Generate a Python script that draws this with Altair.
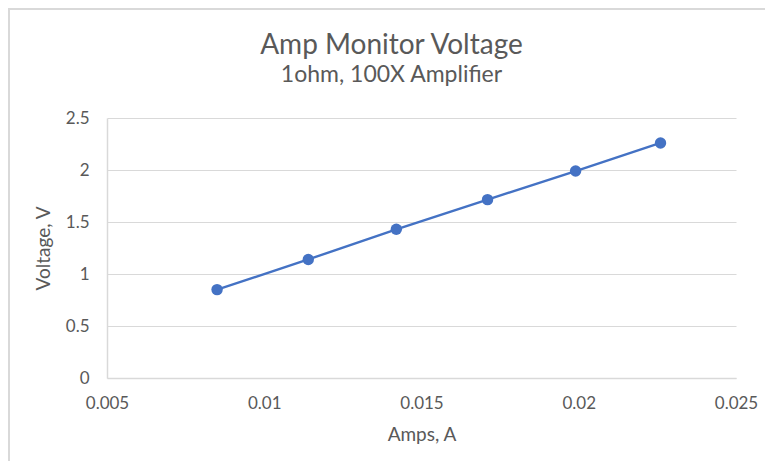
import altair as alt
import pandas as pd

# Data
amps = [0.0085, 0.0114, 0.0142, 0.0171, 0.0199, 0.0226]
volts = [0.85, 1.14, 1.43, 1.715, 1.99, 2.26]
x_ticks = [0.005, 0.01, 0.015, 0.02, 0.025]
y_ticks = [0, 0.5, 1, 1.5, 2, 2.5]

df = pd.DataFrame({"Amps": amps, "Voltage": volts})

FONT = "Lato"
TEXT = "#595959"
GRID = "#D9D9D9"
BLUE = "#4472C4"

W, H = 629, 260

base = alt.Chart(df).encode(
    x=alt.X(
        "Amps:Q",
        scale=alt.Scale(domain=[0.005, 0.025], nice=False, zero=False),
        axis=alt.Axis(
            values=x_ticks, format="~g", title="Amps, A", grid=False,
            ticks=False, tickSize=0, domainColor=GRID, domainWidth=1.5,
            labelFlush=False, labelPadding=17, titlePadding=14,
        ),
    ),
    y=alt.Y(
        "Voltage:Q",
        scale=alt.Scale(domain=[0, 2.5], nice=False),
        axis=alt.Axis(
            values=y_ticks, format="~g", title="Voltage, V", grid=True,
            gridColor=GRID, gridWidth=1.2, ticks=False, tickSize=0,
            domainColor=GRID, domainWidth=1.5, labelFlush=False,
            labelPadding=18, titlePadding=12,
        ),
    ),
)

line = base.mark_line(color=BLUE, strokeWidth=2.4)
pts = base.mark_circle(color=BLUE, size=130, opacity=1)

frame_df = pd.DataFrame({"k": [0]})
left_border = alt.Chart(frame_df).mark_rule(color=GRID, strokeWidth=2).encode(
    x=alt.value(-98), y=alt.value(-109), y2=alt.value(H + 90)
)
top_border = alt.Chart(frame_df).mark_rule(color=GRID, strokeWidth=2).encode(
    x=alt.value(-99), x2=alt.value(W + 40), y=alt.value(-109)
)

chart = (
    alt.layer(left_border, top_border, line, pts)
    .properties(
        width=W,
        height=H,
        autosize=alt.AutoSizeParams(type="none"),
        padding={"left": 99, "top": 110, "right": 29, "bottom": 83},
        title=alt.TitleParams(
            text="Amp Monitor Voltage",
            subtitle="1ohm, 100X Amplifier",
            anchor="middle",
            frame="group",
            dx=-30,
            offset=-79,
            font=FONT,
            fontSize=28,
            fontWeight="normal",
            color=TEXT,
            subtitleFont=FONT,
            subtitleFontSize=23,
            subtitleColor=TEXT,
            subtitlePadding=4,
        ),
    )
    .configure_view(stroke=None)
    .configure_axis(
        labelFont=FONT, labelFontSize=17, labelColor=TEXT,
        titleFont=FONT, titleFontSize=19, titleColor=TEXT, titleFontWeight="normal",
    )
)

chart.save("out.html", embed_options={"renderer": "svg", "actions": False})
